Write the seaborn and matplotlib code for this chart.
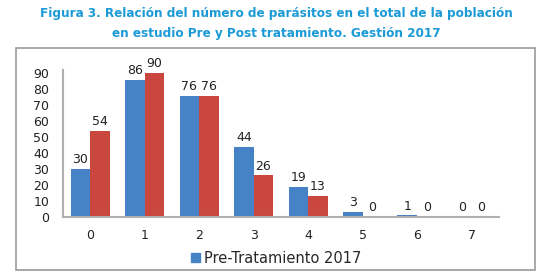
import pandas as pd
import matplotlib
matplotlib.use('Agg')
import matplotlib.pyplot as plt
import seaborn as sns
from matplotlib.patches import Rectangle

# Data
categories = ['0', '1', '2', '3', '4', '5', '6', '7']
pre_2017 = [30, 86, 76, 44, 19, 3, 1, 0]
post_2017 = [54, 90, 76, 26, 13, 0, 0, 0]
series_names = ['Pre-Tratamiento 2017', 'Post-Tratamiento 2017']

df = pd.DataFrame({
    'Parasitos': categories * 2,
    'Valor': pre_2017 + post_2017,
    'Serie': [series_names[0]] * len(categories) + [series_names[1]] * len(categories),
})

sns.set_style('white')
plt.rcParams['font.family'] = ['DejaVu Sans']

fig = plt.figure(figsize=(5.53, 2.77), dpi=100)
ax = fig.add_axes([0.114, 0.217, 0.788, 0.53])

palette = {series_names[0]: '#4682c6', series_names[1]: '#c9473f'}
sns.barplot(data=df, x='Parasitos', y='Valor', hue='Serie', palette=palette,
            width=0.72, ax=ax, edgecolor='none', legend=False, saturation=1)

for cont in ax.containers:
    ax.bar_label(cont, fontsize=9, padding=2, color='#222222')

ax.set_ylim(0, 92)
ax.set_yticks(range(0, 91, 10))
ax.set_xlim(-0.5, 7.5)
ax.set_xlabel('')
ax.set_ylabel('')
ax.tick_params(axis='both', labelsize=9, length=0, colors='#222222')
ax.tick_params(axis='x', pad=9)
ax.tick_params(axis='y', pad=10)
sns.despine(ax=ax, top=True, right=True)
for s in ['left', 'bottom']:
    ax.spines[s].set_color('#b0b0b0')
    ax.spines[s].set_linewidth(1.5)

# legend: only the first series is visible in the reference
h = [Rectangle((0, 0), 1, 1, color=palette[series_names[0]])]
fig.legend(h, [series_names[0]], loc='center', bbox_to_anchor=(0.5, 0.068),
           frameon=False, fontsize=10.5, handlelength=0.6, handleheight=0.6,
           handletextpad=0.3)

# outer chart frame
fig.patches.append(Rectangle((16 / 553, 7 / 277), 519 / 553, 222 / 277,
                             transform=fig.transFigure, fill=False,
                             edgecolor='#999999', linewidth=1.2))

fig.text(0.5, 0.95, 'Figura 3. Relación del número de parásitos en el total de la población',
         ha='center', va='center', color='#1a9ad6', fontsize=9.6, fontweight='bold',
         fontstretch='condensed')
fig.text(0.5, 0.88, 'en estudio Pre y Post tratamiento. Gestión 2017',
         ha='center', va='center', color='#1a9ad6', fontsize=9.6, fontweight='bold',
         fontstretch='condensed')

fig.savefig('out.png', dpi=100)
